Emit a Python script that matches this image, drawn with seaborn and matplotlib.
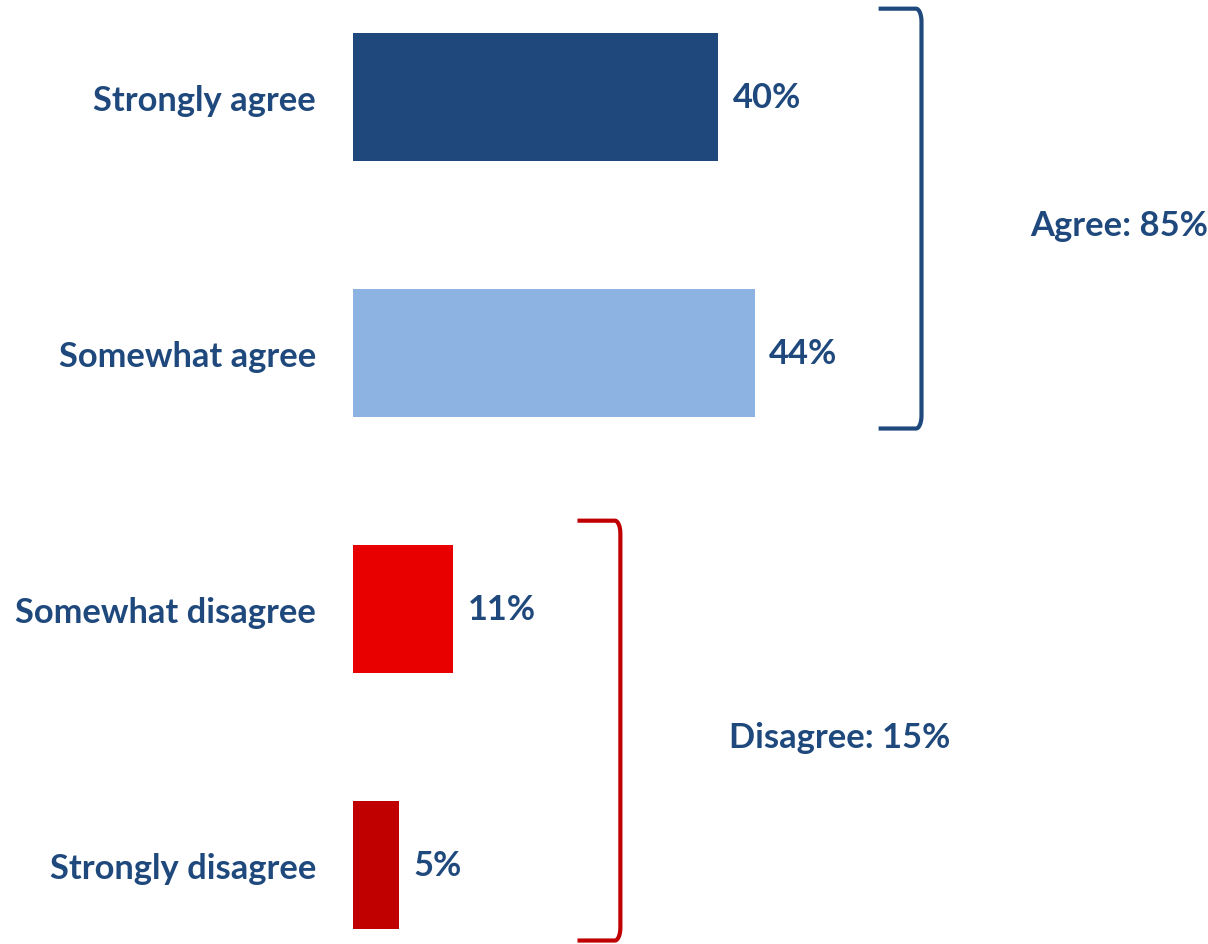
import matplotlib
matplotlib.use("Agg")
import matplotlib.pyplot as plt
import seaborn as sns
import pandas as pd
import numpy as np

categories = ["Strongly agree", "Somewhat agree", "Somewhat disagree", "Strongly disagree"]
values = [40, 44, 11, 5]
bar_colors = ["#1F497D", "#8DB3E2", "#E80000", "#C00000"]
groups = ["Agree", "Agree", "Disagree", "Disagree"]
group_totals = {"Agree": 85, "Disagree": 15}
group_colors = {"Agree": "#1F497D", "Disagree": "#C00000"}

TEXT = "#1F497D"
FONT = ["Lato", "DejaVu Sans"]
FS = 24.8

sns.set_theme(style="white")
plt.rcParams["font.family"] = FONT

df = pd.DataFrame({"category": categories, "value": values})

W, H = 1208, 945
fig = plt.figure(figsize=(W / 100, H / 100), dpi=100)
left_px = 353
px_per_unit = 9.125
ax = fig.add_axes([left_px / W, 0, 1 - left_px / W, 1])

sns.barplot(data=df, y="category", x="value", hue="category",
            palette=bar_colors, order=categories, hue_order=categories,
            width=0.5, legend=False, ax=ax, orient="h", saturation=1,
            linewidth=0, edgecolor="none")

ax.set_xlim(0, (W - left_px) / px_per_unit)
ax.set_ylim((H - 98) / 256, -98 / 256)
for s in ax.spines.values():
    s.set_visible(False)
ax.set_xticks([])
ax.set_xlabel("")
ax.set_ylabel("")
ax.tick_params(axis="y", length=0, pad=26.5)
for lbl in ax.get_yticklabels():
    lbl.set_fontsize(FS)
    lbl.set_fontweight("bold")
    lbl.set_color(TEXT)

# value labels
for i, v in enumerate(values):
    ax.text(v + 1.6, i, f"{v}%", va="center", ha="left",
            fontsize=FS, fontweight="bold", color=TEXT)

# group brackets with totals
for g in ["Agree", "Disagree"]:
    idx = [i for i, gg in enumerate(groups) if gg == g]
    gmax = max(values[i] for i in idx)
    xb = gmax + 18.3
    y0 = idx[0] - 0.345
    y1 = idx[-1] + 0.295
    hook = 4.7
    col = group_colors[g]
    # rounded corners: quarter arcs at each end
    rx, ry = 0.6, 0.05
    t = np.linspace(0, np.pi / 2, 12)
    top_x = xb - rx + rx * np.sin(t)
    top_y = y0 + ry - ry * np.cos(t)
    bot_x = top_x[::-1]
    bot_y = y1 - ry + ry * np.cos(t[::-1])
    xs = np.concatenate([[xb - hook], top_x, bot_x, [xb - hook]])
    ys = np.concatenate([[y0], top_y, bot_y, [y1]])
    ax.plot(xs, ys, color=col, lw=3, solid_joinstyle="round",
            solid_capstyle="butt", clip_on=False)
    ax.text(xb + 11.9, (idx[0] + idx[-1]) / 2, f"{g}: {group_totals[g]}%",
            va="center", ha="left", fontsize=FS, fontweight="bold", color=TEXT)

fig.savefig("out.png", dpi=100)
